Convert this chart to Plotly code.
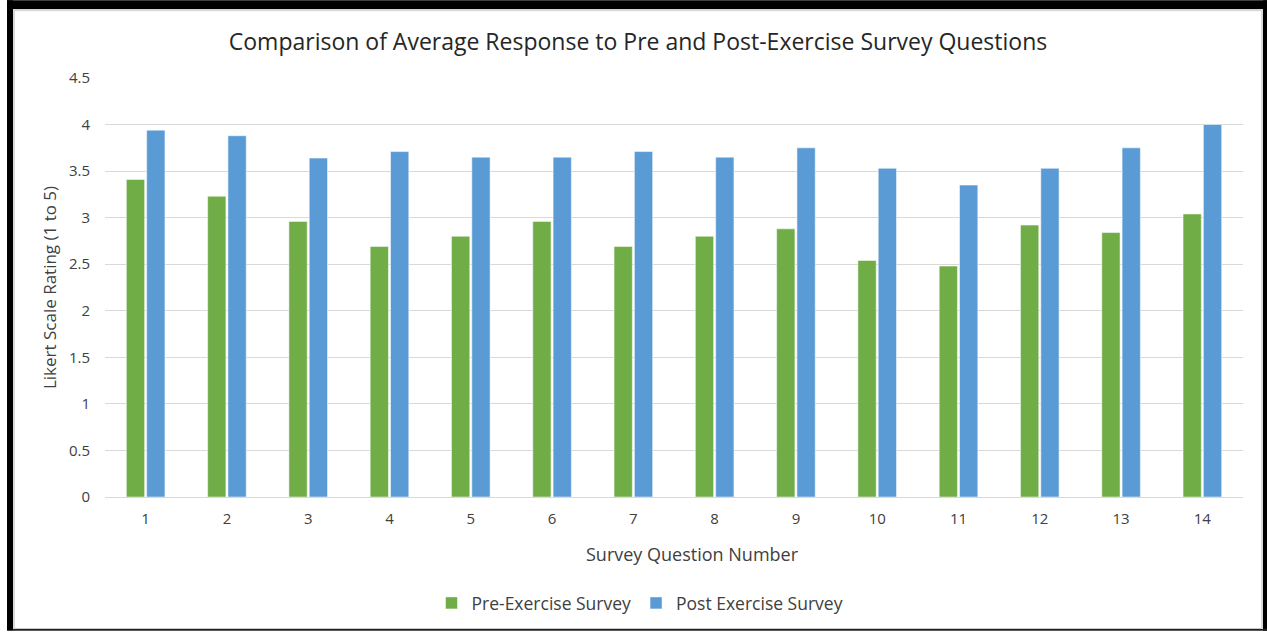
import plotly.graph_objects as go

questions = [str(i) for i in range(1, 15)]
pre_exercise = [3.41, 3.23, 2.96, 2.69, 2.80, 2.96, 2.69, 2.80, 2.88, 2.54, 2.48, 2.92, 2.84, 3.04]
post_exercise = [3.94, 3.88, 3.64, 3.71, 3.65, 3.65, 3.71, 3.65, 3.75, 3.53, 3.35, 3.53, 3.75, 4.00]

W, H = 1267, 632
L, R, T, B = 105, 24, 78, 134
PW, PH = W - L - R, H - T - B

FONT = "Open Sans"

fig = go.Figure()
fig.add_trace(go.Bar(x=questions, y=pre_exercise, name="Pre-Exercise Survey",
                     marker=dict(color="#70AD47", line=dict(color="rgba(255,255,255,0.5)", width=1))))
fig.add_trace(go.Bar(x=questions, y=post_exercise, name="Post Exercise Survey",
                     marker=dict(color="#5B9BD5", line=dict(color="rgba(255,255,255,0.5)", width=1))))


def px_x(p):
    return (p - L) / PW


def px_y(p):
    return (H - B - p) / PH


shapes = []


def rect(x0, y0, x1, y1, color):
    shapes.append(dict(type="rect", xref="paper", yref="paper",
                       x0=px_x(x0), x1=px_x(x1), y0=px_y(y1), y1=px_y(y0),
                       fillcolor=color, line=dict(width=0), layer="above"))


# outer frame
rect(7, 0, 1267, 9, "#000000")
rect(7, 0, 13, 632, "#000000")
rect(1263, 0, 1267, 632, "#000000")
rect(13, 630, 1267, 632, "#222222")
rect(13, 9, 1262, 11, "#D9D9D9")
rect(13, 9, 15, 630, "#D9D9D9")
rect(1261, 9, 1263, 630, "#D9D9D9")

fig.update_layout(
    width=W, height=H,
    margin=dict(l=L, r=R, t=T, b=B),
    paper_bgcolor="white", plot_bgcolor="white",
    font=dict(family=FONT, color="#595959"),
    title=dict(text="Comparison of Average Response to Pre and Post-Exercise Survey Questions",
               x=(638) / W, xanchor="center", y=1 - 42 / H, yanchor="middle",
               font=dict(size=23, color="#262626", family=FONT)),
    barmode="group", bargap=0.5, bargroupgap=0.1,
    xaxis=dict(type="category", showgrid=False, showline=True, linecolor="#D9D9D9", linewidth=1,
               ticks="", tickfont=dict(size=15, color="#404040"), ticklabelstandoff=8),
    yaxis=dict(range=[0, 4.5], dtick=0.5, tick0=0, showgrid=True, gridcolor="#D9D9D9", gridwidth=1,
               zeroline=False, showline=False, ticks="", tickfont=dict(size=15, color="#404040"),
               ticklabelstandoff=14,
               title=dict(text="Likert Scale Rating (1 to 5)", font=dict(size=17, color="#404040"), standoff=7)),
    legend=dict(orientation="h", x=px_x(640), xanchor="center", y=px_y(603), yanchor="middle",
                font=dict(size=17.5, color="#404040"), itemwidth=30, traceorder="normal"),
    shapes=shapes,
    annotations=[dict(text="Survey Question Number", xref="paper", yref="paper",
                      x=px_x(692), y=px_y(555), xanchor="center", yanchor="middle",
                      showarrow=False, font=dict(size=18, color="#404040", family=FONT))],
)

fig.write_html("out.html")
